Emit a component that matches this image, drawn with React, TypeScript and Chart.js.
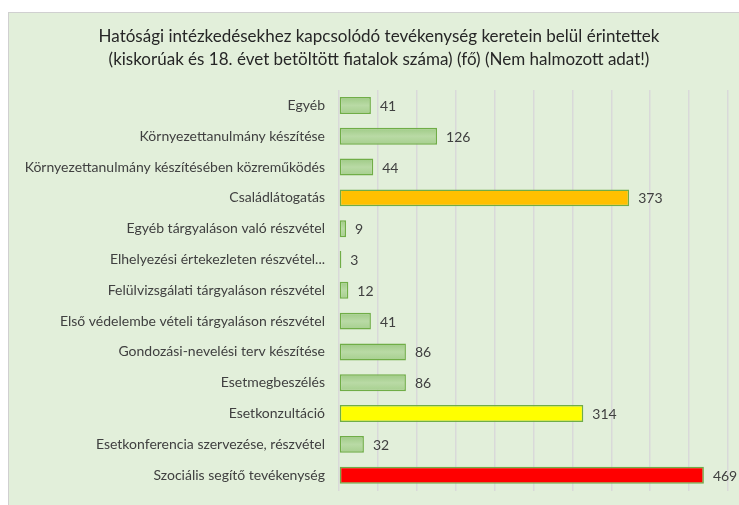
import React, { useEffect, useRef } from "react";
import { Chart, registerables } from "chart.js";

Chart.register(...registerables);

const titleLines = [
  "Hatósági intézkedésekhez kapcsolódó tevékenység keretein belül érintettek",
  "(kiskorúak és 18. évet betöltött fiatalok száma) (fő) (Nem halmozott adat!)",
];

const categories = [
  "Egyéb",
  "Környezettanulmány készítése",
  "Környezettanulmány készítésében közreműködés",
  "Családlátogatás",
  "Egyéb tárgyaláson való részvétel",
  "Elhelyezési értekezleten részvétel...",
  "Felülvizsgálati tárgyaláson részvétel",
  "Első védelembe vételi tárgyaláson részvétel",
  "Gondozási-nevelési terv készítése",
  "Esetmegbeszélés",
  "Esetkonzultáció",
  "Esetkonferencia szervezése, részvétel",
  "Szociális segítő tevékenység",
];

const values = [41, 126, 44, 373, 9, 3, 12, 41, 86, 86, 314, 32, 469];

const highlightColors: (string | null)[] = [
  null, null, null, "#FFC000", null, null, null, null, null, null, "#FFFF00", null, "#FF0000",
];

const FONT = "Lato, 'Open Sans', sans-serif";

export default function App() {
  const ref = useRef<HTMLCanvasElement | null>(null);

  useEffect(() => {
    if (!ref.current) return;

    const gradientPlugin = {
      id: "gradFill",
      beforeDatasetsDraw(chart: any) {
        const ctx = chart.ctx;
        const meta = chart.getDatasetMeta(0);
        meta.data.forEach((el: any, i: number) => {
          if (highlightColors[i]) return;
          const top = el.y - el.height / 2;
          const bot = el.y + el.height / 2;
          const g = ctx.createLinearGradient(0, top, 0, bot);
          g.addColorStop(0, "#9ECA85");
          g.addColorStop(0.5, "#B9DAA5");
          g.addColorStop(1, "#A6CF8E");
          el.options.backgroundColor = g;
        });
      },
    };

    const labelPlugin = {
      id: "valueLabels",
      afterDatasetsDraw(chart: any) {
        const ctx = chart.ctx;
        const meta = chart.getDatasetMeta(0);
        ctx.save();
        ctx.font = `14px ${FONT}`;
        ctx.fillStyle = "#404040";
        ctx.textAlign = "left";
        ctx.textBaseline = "middle";
        meta.data.forEach((el: any, i: number) => {
          ctx.fillText(String(values[i]), el.x + 9, el.y + 1);
        });
        ctx.restore();
      },
    };

    const titlePlugin = {
      id: "customTitle",
      afterDraw(chart: any) {
        const ctx = chart.ctx;
        ctx.save();
        ctx.font = `17px ${FONT}`;
        ctx.fillStyle = "#262626";
        ctx.textAlign = "center";
        ctx.textBaseline = "middle";
        titleLines.forEach((t, i) => ctx.fillText(t, 379, 37 + i * 23));
        ctx.restore();
      },
    };

    const chart = new Chart(ref.current, {
      type: "bar",
      data: {
        labels: categories,
        datasets: [
          {
            data: values,
            backgroundColor: highlightColors.map((c) => c || "#B0D59A"),
            borderColor: "#70AD47",
            borderWidth: 1.5,
            borderSkipped: false,
            barPercentage: 0.55,
            categoryPercentage: 1,
          },
        ],
      },
      options: {
        indexAxis: "y",
        animation: false,
        responsive: false,
        maintainAspectRatio: false,
        layout: { padding: { left: 0, right: 11, top: 90, bottom: 13 } },
        plugins: {
          legend: { display: false },
          title: { display: false },
          tooltip: { enabled: false },
        },
        scales: {
          x: {
            min: 0,
            max: 500,
            ticks: { display: false, stepSize: 50 },
            grid: { color: "#D9D9D9", lineWidth: 1.5, drawTicks: false },
            border: { display: false },
          },
          y: {
            grid: { display: false },
            border: { display: false },
            ticks: {
              color: "#404040",
              padding: 6,
              autoSkip: false,
              font: { family: FONT, size: 14 },
            },
            afterFit(scale: any) {
              scale.width = 339;
            },
          },
        },
      },
      plugins: [gradientPlugin, labelPlugin, titlePlugin],
    } as any);

    return () => chart.destroy();
  }, []);

  return (
    <div style={{ position: "fixed", left: 0, top: 0, width: 739, height: 505, overflow: "hidden" }}>
      <div
        style={{
          position: "absolute",
          left: 8,
          top: 12,
          width: 740,
          height: 500,
          background: "#E2EFDA",
          borderLeft: "1px solid #D0D0D0",
          borderTop: "1px solid #D0D0D0",
        }}
      />
      <canvas
        ref={ref}
        width={739}
        height={505}
        style={{ position: "absolute", left: 0, top: 0, width: 739, height: 505 }}
      />
    </div>
  );
}
